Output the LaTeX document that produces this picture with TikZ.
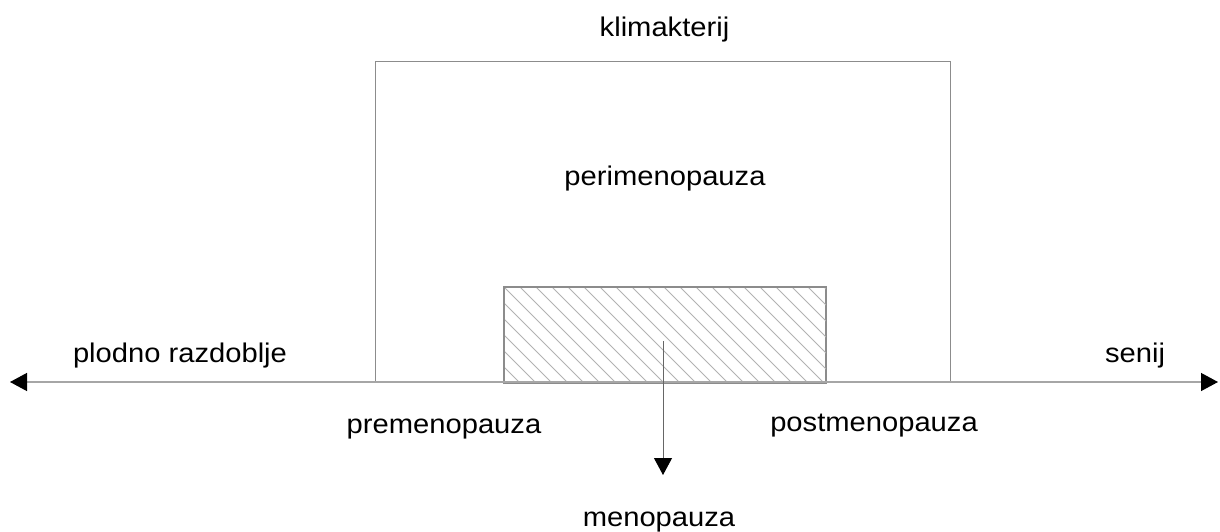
\documentclass[tikz,border=0pt]{standalone}
\usepackage{fontspec}
\setmainfont{Liberation Sans}[FakeStretch=1.08]
\usetikzlibrary{arrows.meta}
\tikzset{
  lbl/.style={anchor=base,inner sep=0pt,font=\fontsize{27}{32}\selectfont},
  boxline/.style={draw=black!45,line width=1.1pt},
  hatchline/.style={draw=black!30,line width=0.8pt},
  axisline/.style={draw=black!35,line width=1.3pt},
  tipstyle/.tip={Triangle[length=17pt,width=18pt,color=black]},
}
\begin{document}
\begin{tikzpicture}[x=1pt,y=-1pt]
\useasboundingbox (0,0) rectangle (1220,532);
% big box
\node[boxline,minimum width=575pt,minimum height=321pt,inner sep=0pt,anchor=north west] (klimbox) at (375,61) {};
% hatched box
\node[boxline,minimum width=321pt,minimum height=95pt,inner sep=0pt,anchor=north west] (menobox) at (504,287) {};
\begin{scope}
\clip (menobox.south west) rectangle (menobox.north east);
\foreach \i in {-7,...,21} \draw[hatchline] (504+\i*16,287) -- ++(96,96);
\end{scope}
\draw[boxline] (menobox.south west) rectangle (menobox.north east);
% axis
\coordinate (leftend) at (10,382);
\coordinate (rightend) at (1218,382);
\draw[axisline,arrows={tipstyle-tipstyle}] (leftend) -- (rightend);
% labels
\node[lbl] (klim) at (664.5,36.7) {klimakterij};
\node[lbl] (peri) at (665,185) {perimenopauza};
\node[lbl] (plodno) at (180,362) {plodno razdoblje};
\node[lbl] (senij) at (1135,362) {senij};
\node[lbl] (pre) at (444,433) {premenopauza};
\node[lbl] (post) at (874,431) {postmenopauza};
\node[lbl] (meno) at (659,526.7) {menopauza};
% menopause arrow
\coordinate (mstart) at (663,341);
\coordinate (mend) at (663,475);
\draw[draw=black!60,line width=1pt,arrows={-tipstyle}] (mstart) -- (mend);
\end{tikzpicture}
\end{document}
